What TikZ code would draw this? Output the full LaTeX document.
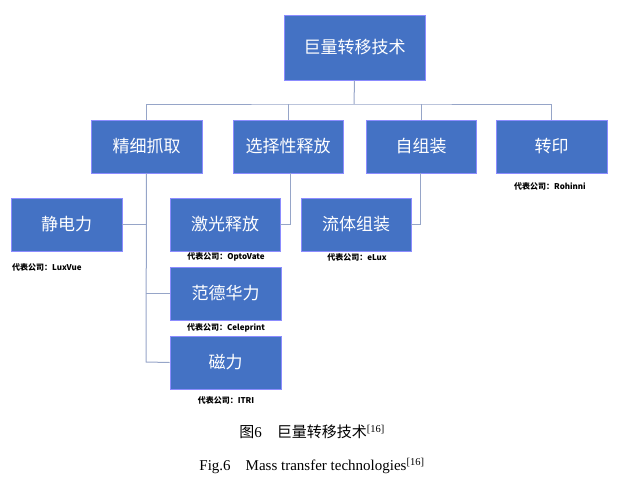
\documentclass[tikz,border=0pt]{standalone}
\usepackage{fontspec}
\setmainfont{Liberation Serif}
\newfontfamily\cjk{Noto Sans CJK SC}
\newfontfamily\lab{Liberation Sans}
\begin{document}
\begin{tikzpicture}[x=1pt,y=-1pt,
  bx/.style={draw=blue!45!white,line width=0.8pt,fill={rgb,255:red,68;green,114;blue,196},text=white,font=\cjk\fontsize{17}{20}\selectfont,inner sep=0pt},
  ln/.style={draw={rgb,255:red,150;green,165;blue,200},line width=1pt},
  lb/.style={font=\cjk\fontsize{8}{10}\selectfont\bfseries,inner sep=0pt}]
\useasboundingbox (0,0) rectangle (621,503);
\newcommand\bxat[6]{\node[bx,minimum width=#3-#2,minimum height=#5-#4] (#1) at ({(#2+#3)/2},{(#4+#5)/2}) {#6};}
\bxat{top}{284}{425}{15}{80}{巨量转移技术}
\bxat{a}{91}{202}{120}{173}{精细抓取}
\bxat{b}{233}{343}{120}{173}{选择性释放}
\bxat{c}{366}{476}{120}{173}{自组装}
\bxat{d}{496}{607}{120}{173}{转印}
\bxat{a1}{11}{122}{198}{251}{静电力}
\bxat{b1}{170}{280}{198}{251}{激光释放}
\bxat{c1}{301}{411}{198}{251}{流体组装}
\bxat{a2}{170}{281}{267}{320}{范德华力}
\bxat{a3}{170}{281}{336}{389}{磁力}
\coordinate (bus) at (354,104);
\draw[ln] (top.south) -- (bus);
\draw[ln] (a.north) |- (bus) -| (d.north);
\draw[ln] (b.north) -- (b.north|-bus);
\draw[ln] (c.north) -- (c.north|-bus);
\coordinate (t) at (146,362);
\draw[ln] (a.south) -- (t) -- (a3.west);
\draw[ln] (a1.east) -- (a1.east-|t);
\draw[ln] (a2.west) -- (a2.west-|t);
\draw[ln] (290,173) |- (b1.east);
\draw[ln] (420,173) |- (c1.east);
\node[lb,anchor=west] (l1) at (12,267) {代表公司：LuxVue};
\node[lb] (l2) at (226,257) {代表公司：OptoVate};
\node[lb] (l3) at (357,257) {代表公司：eLux};
\node[lb] (l4) at (226,328) {代表公司：Celeprint};
\node[lb] (l5) at (226,400) {代表公司：ITRI};
\node[lb] (l6) at (550,186) {代表公司：Rohinni};
\node[font=\fontsize{15}{18}\selectfont] (cap1) at (312,432) {{\cjk 图}6\quad{\cjk 巨量转移技术}\textsuperscript{[16]}};
\node[font=\fontsize{15}{18}\selectfont] (cap2) at (312,466) {Fig.6\quad Mass transfer technologies\textsuperscript{[16]}};
\end{tikzpicture}
\end{document}
